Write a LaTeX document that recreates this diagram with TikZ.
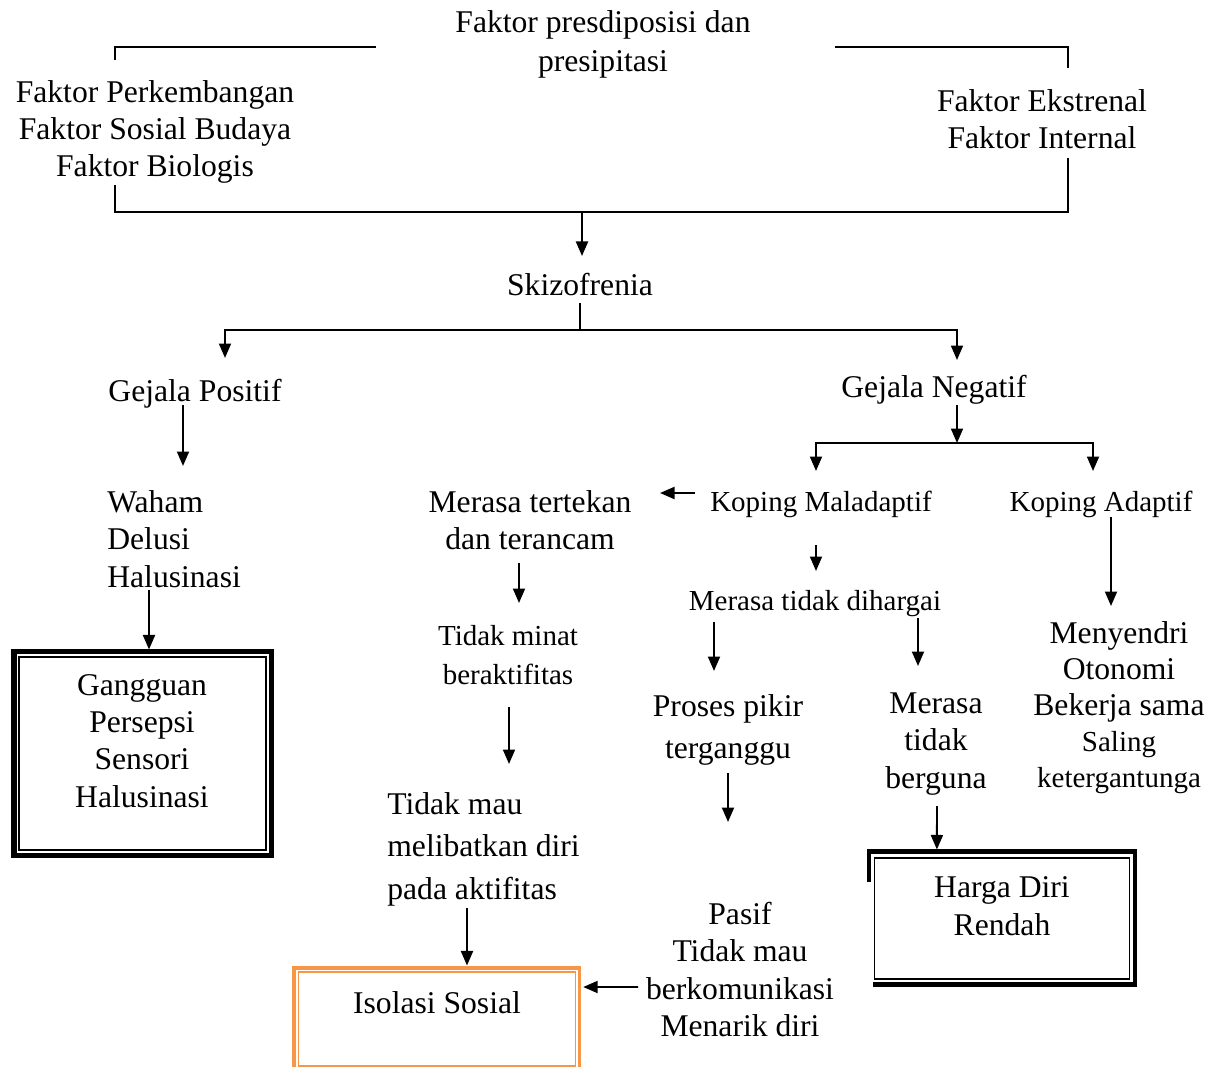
\documentclass[tikz,border=0pt]{standalone}
\usepackage{fontspec}
\setmainfont{Liberation Serif}
\usepackage{xcolor}
\usepackage{tikz}
\usetikzlibrary{arrows.meta, calc}
\definecolor{ink}{HTML}{000000}
\definecolor{isolorange}{HTML}{F79646}
\tikzset{
  lbl/.style   = {inner sep=0pt, align=center, text=ink, font=\fontsize{18}{21.3}\selectfont},
  lbls/.style  = {inner sep=0pt, align=center, text=ink, font=\fontsize{16.5}{22.2}\selectfont},
  frame/.style = {rectangle, draw=ink, line width=0.6pt, inner sep=0pt},
  ln/.style    = {draw=ink, line width=1.1pt},
  ar/.style    = {-{Triangle[length=2.9mm,width=2.4mm]}, draw=ink, line width=1.1pt},
}

\begin{document}
\begin{tikzpicture}[x=0.02cm, y=-0.02cm]
  \useasboundingbox (0,0) rectangle (1221,1067);

  % factors
  \node[lbl, font=\fontsize{18}{22.2}\selectfont] (title) at (603,44.5) {Faktor presdiposisi dan\\presipitasi};
  \node[lbl] (lfak) at (155,132) {Faktor Perkembangan\\Faktor Sosial Budaya\\Faktor Biologis};
  \node[lbl] (rfak) at (1042,119) {Faktor Ekstrenal\\Faktor Internal};
  \draw[ln] ($(title)+(-227,2.5)$) -| ($(lfak)+(-40,-72)$);
  \draw[ln] ($(title)+(232,2.5)$) -| ($(rfak)+(26,-51)$);
  \draw[ln] ($(lfak)+(-40,53)$) |- ($(rfak)+(26,93)$) -- ($(rfak)+(26,39)$);

  % skizofrenia
  \node[lbl] (skz) at (580,285) {Skizofrenia};
  \draw[ar] ($(skz)+(2,-73)$) -- ($(skz)+(2,-29)$);
  \draw[draw=ink, line width=1.7pt] ($(skz)+(0,18)$) -- ($(skz)+(0,45)$);
  \node[lbl] (gpos) at (195,394) {Gejala Positif};
  \node[lbl] (gneg) at (934,390) {Gejala Negatif};
  \draw[ar] ($(skz)+(0,45)$) -| ($(gpos)+(30,-36)$);
  \draw[ar] ($(skz)+(0,45)$) -| ($(gneg)+(23,-30)$);

  % gejala positif
  \node[lbl, anchor=west, align=left] (waham) at (107,539) {Waham\\Delusi\\Halusinasi};
  \node[frame, minimum width=4.94cm, minimum height=3.86cm] (gps) at (142.5,753.5) {};
  \draw[draw=ink, line width=2.85pt] ($(gps.north west)+(-4.5,-4.5)$) rectangle ($(gps.south east)+(4.5,4.5)$);
  \node[lbl, font=\fontsize{18}{21.2}\selectfont] (gpstxt) at (142,741) {Gangguan\\Persepsi\\Sensori\\Halusinasi};
  \draw[ar] ($(gpos)+(-12,11)$) -- ($(waham.west)+(76,-73)$);
  \draw[ar] ($(waham.west)+(42,51)$) -- ($(gps.north)+(6.5,-7)$);

  % gejala negatif
  \node[lbls] (lmk) at (821,504) {Koping Maladaptif};
  \node[lbls] (kad) at (1101,504) {Koping Adaptif};
  \draw[ar] ($(gneg)+(23,15)$) -- ($(gneg)+(23,53)$);
  \draw[ar] ($(gneg)+(23,53)$) -| ($(lmk)+(-5,-33)$);
  \draw[ar] ($(gneg)+(23,53)$) -| ($(kad)+(-8,-33)$);

  % koping maladaptif
  \node[lbl] (mtt) at (530,520) {Merasa tertekan\\dan terancam};
  \node[lbls] (tmb) at (508,655.5) {Tidak minat\\beraktifitas};
  \node[lbl, anchor=west, align=left, font=\fontsize{18}{24.2}\selectfont] (tmm) at (387,849) {Tidak mau\\melibatkan diri\\pada aktifitas};
  \node[lbls] (mtd) at (815,604) {Merasa tidak dihargai};
  \node[lbl, font=\fontsize{18}{23.9}\selectfont] (ppt) at (728,730) {Proses pikir\\terganggu};
  \node[lbl] (mtb) at (936,744) {Merasa\\tidak\\berguna};
  \node[lbl, font=\fontsize{18}{21.4}\selectfont] (pasif) at (740,969.5) {Pasif\\Tidak mau\\berkomunikasi\\Menarik diri};
  \draw[ar] ($(lmk)+(-126,-11)$) -- ($(mtt)+(130,-27)$);
  \draw[ar] ($(lmk)+(-5,41)$) -- ($(mtd)+(1,-33)$);
  \draw[ar] ($(mtt)+(-11,43)$) -- ($(tmb)+(11,-52.5)$);
  \draw[ar] ($(tmb)+(1,51.5)$) -- ($(tmm.west)+(122,-85)$);
  \draw[ar] ($(mtd)+(-101,18)$) -- ($(ppt)+(-14,-59)$);
  \draw[ar] ($(mtd)+(103,14)$) -- ($(mtb)+(-18,-78)$);
  \draw[ar] ($(ppt)+(0,43)$) -- ($(pasif)+(-12,-147.5)$);

  % isolasi sosial
  \node[frame, draw=isolorange, minimum width=5.55cm, minimum height=1.88cm] (isol) at (436.75,1019) {};
  \draw[draw=isolorange, line width=2pt] ($(isol.north west)+(-3.5,-3.5)$) rectangle ($(isol.south east)+(3.5,3.5)$);
  \node[lbl] (isoltxt) at (437,1003) {Isolasi Sosial};
  \draw[ar] ($(tmm.west)+(80,59)$) -- ($(isol.north)+(30.25,-6)$);
  \draw[ar] ($(pasif)+(-102,17.5)$) -- ($(isol.east)+(7.2,-32)$);

  % harga diri rendah
  \node[frame, minimum width=5.11cm, minimum height=2.42cm] (hdr) at (1001.9,918.5) {};
  \draw[draw=ink, line width=2.5pt] ($(hdr.north west)+(-4.5,25)$) -- ($(hdr.north west)+(-4.5,-6)$) -| ($(hdr.south east)+(5,5)$) -- ($(hdr.south west)+(-1,5)$);
  \node[lbl, font=\fontsize{18}{21.6}\selectfont] (hdrtxt) at (1002,906) {Harga Diri\\Rendah};
  \draw[ar] ($(mtb)+(1,62)$) -- ($(hdr.north)+(-65,-8)$);

  % koping adaptif
  \node[lbl, font=\fontsize{18}{20.5}\selectfont] (mey) at (1119,708) {Menyendri\\Otonomi\\Bekerja sama\\{\fontsize{16.5}{20.5}\selectfont Saling}\\{\fontsize{16.5}{20.5}\selectfont ketergantunga}};
  \draw[ar] ($(kad)+(10,13)$) -- ($(mey)+(-8,-102)$);
\end{tikzpicture}
\end{document}
